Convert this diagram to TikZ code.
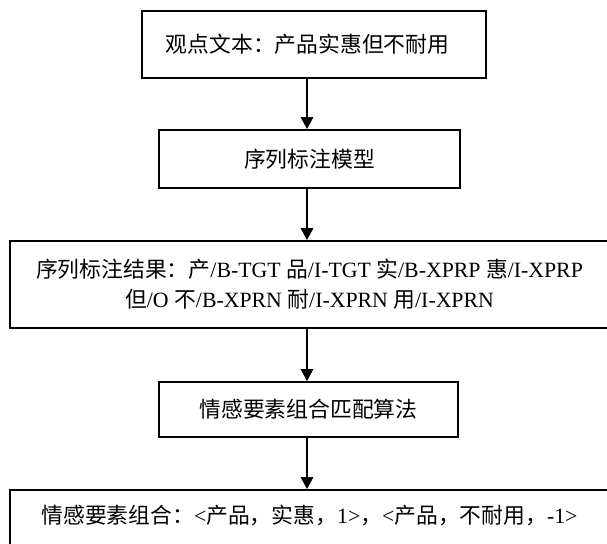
\documentclass[tikz,border=0pt]{standalone}
\usepackage{fontspec}
\setmainfont{Liberation Serif}
\newfontfamily\cjk{Noto Sans CJK SC}
\usetikzlibrary{arrows.meta}
\begin{document}
\begin{tikzpicture}[x=1pt,y=1pt,
  box/.style={draw, line width=1.6pt, inner sep=0pt, align=center, font=\fontsize{21.8}{30}\selectfont},
  arr/.style={line width=2.8pt, -{Triangle[width=12pt,length=12pt]}}]
\useasboundingbox (0,0) rectangle (607,543);
\node[box, minimum width=344, minimum height=67] (n1) at (314, 498.5) {\hspace*{-13pt}\cjk 观点文本：产品实惠但不耐用};
\node[box, minimum width=301, minimum height=58] (n2) at (309.5, 384) {\cjk 序列标注模型};
\node[box, minimum width=599, minimum height=87] (n3) at (309.5, 258.5) {{\cjk 序列标注结果：产}/B-TGT {\cjk 品}/I-TGT {\cjk 实}/B-XPRP {\cjk 惠}/I-XPRP\\ {\cjk 但}/O {\cjk 不}/B-XPRN {\cjk 耐}/I-XPRN {\cjk 用}/I-XPRN};
\node[box, minimum width=299, minimum height=55] (n4) at (308.5, 133.5) {\cjk 情感要素组合匹配算法};
\node[box, minimum width=599, anchor=base, text height=33.4pt, text depth=40pt] (n5) at (309.5, 19.6) {{\cjk 情感要素组合：}<{\cjk 产品，实惠，}1>{\cjk ，}<{\cjk 产品，不耐用，}-1>};
\coordinate (ax) at (307,0);
\draw[arr] (n1.south -| ax) -- (n2.north -| ax);
\draw[arr] (n2.south -| ax) -- (n3.north -| ax);
\draw[arr] (n3.south -| ax) -- (n4.north -| ax);
\draw[arr] (n4.south -| ax) -- (n5.north -| ax);
\end{tikzpicture}
\end{document}
